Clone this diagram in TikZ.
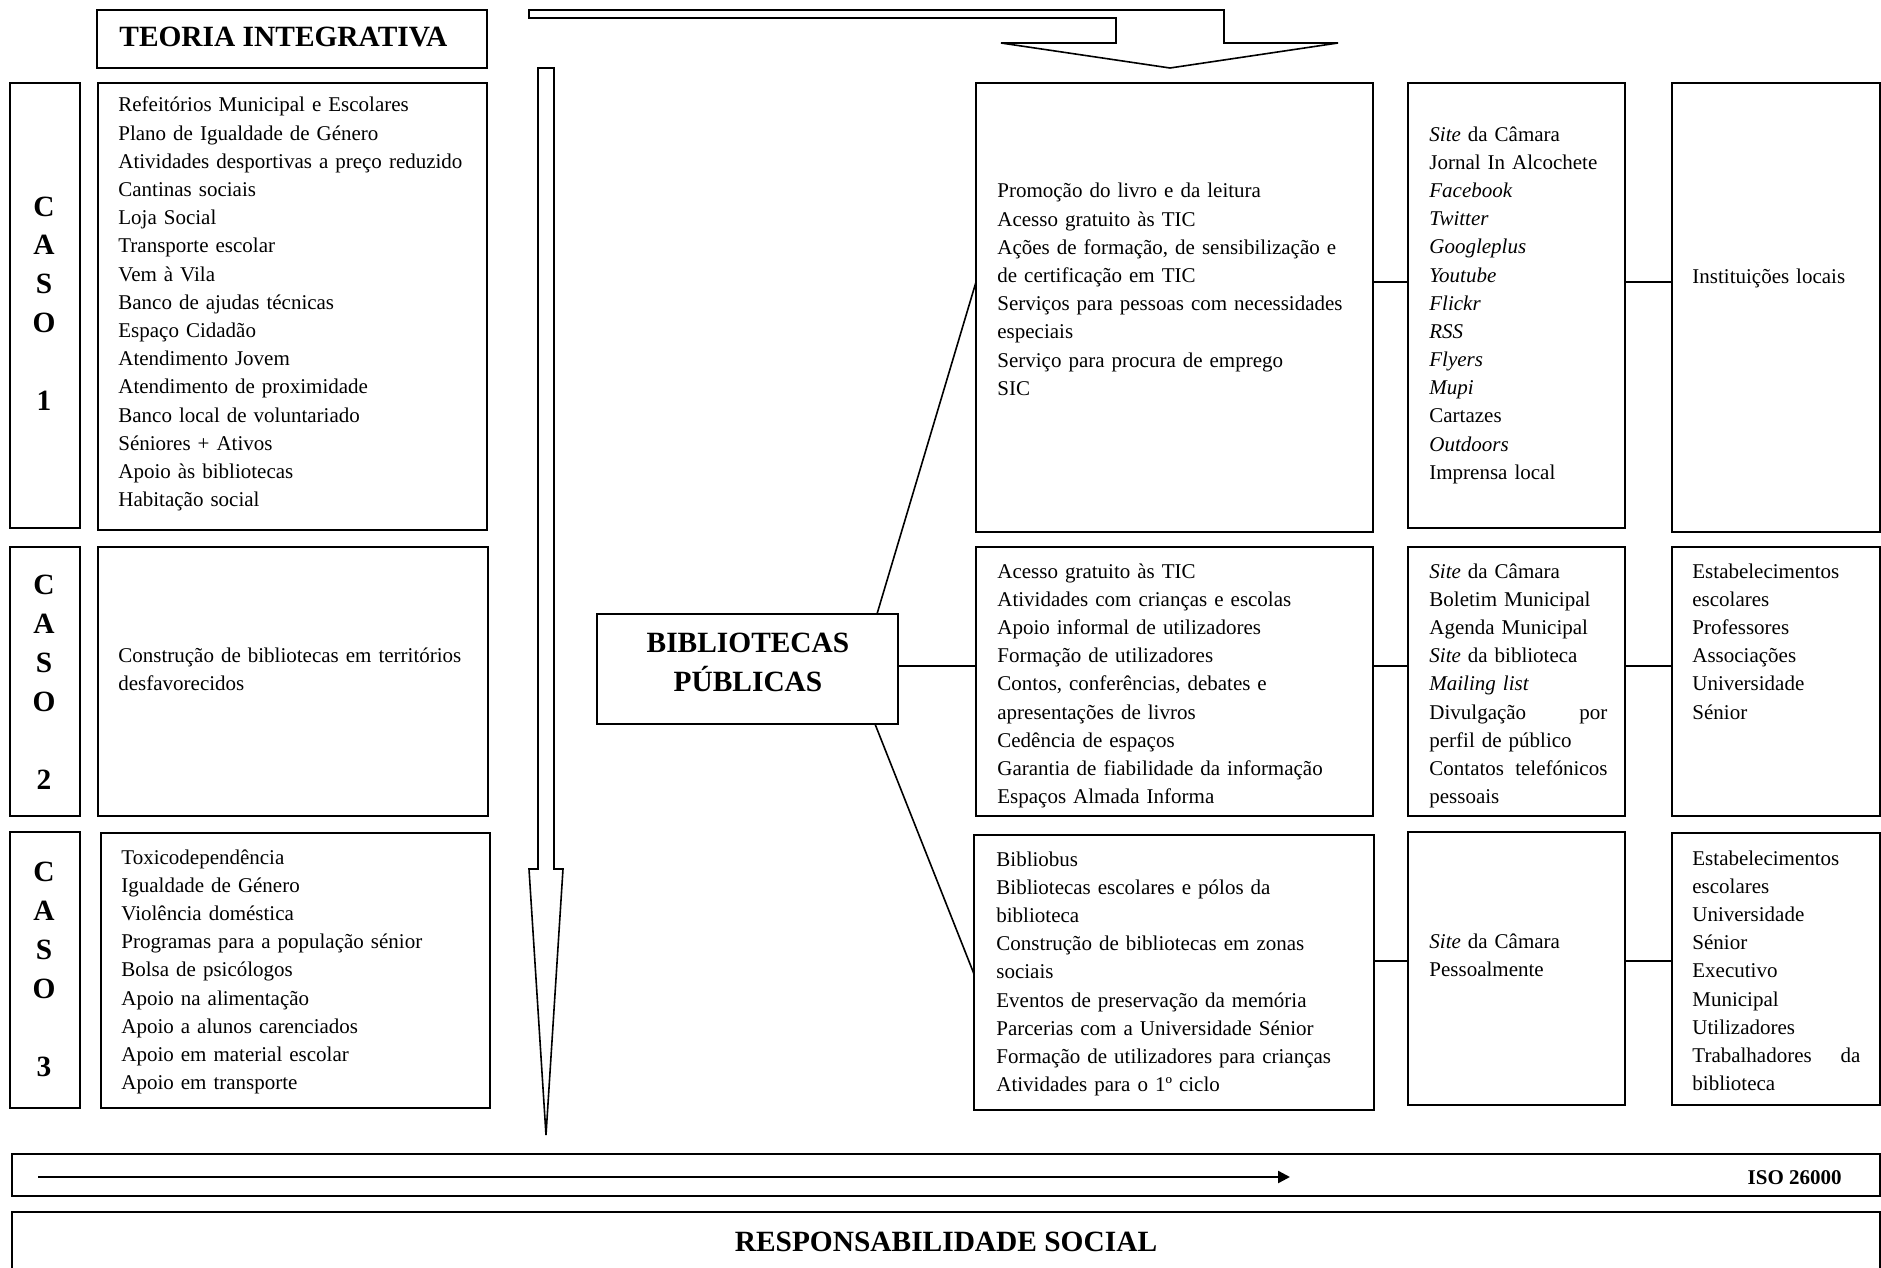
\documentclass[tikz,border=0pt]{standalone}
\usepackage{fontspec}
\setmainfont{Liberation Serif}
\usetikzlibrary{arrows.meta, fit, calc}
\newcommand\corpo{\fontsize{10.5}{14.1}\selectfont}
\newcommand\titulo{\fontsize{14.7}{19.5}\selectfont\bfseries}
\tikzset{
    caixa/.style={draw, line width=1pt, inner sep=0pt, outer sep=0pt},
    lista/.style={anchor=base west, inner sep=0pt, align=left, font=\corpo, text width=#1},
    lista/.default={190pt},
    linha/.style={line width=0.8pt},
    seta/.style={draw, line width=0.8pt, fill=white},
    caso/.style={anchor=base, inner sep=0pt, align=center, font=\titulo, text width=30pt}
}
\begin{document}
\begin{tikzpicture}[x=0.5pt, y=-0.5pt]
    \useasboundingbox (0,0) rectangle (1881,1268);
    % setas grandes
    \draw[seta] (529,10) -- (1224,10) -- (1224,43) -- (1338,43) -- (1170,68) -- (1001,43)
        -- (1116,43) -- (1116,18) -- (529,18) -- cycle;
    \draw[seta] (538,68) -- (554,68) -- (554,869) -- (563,869) -- (546,1135) -- (529,869)
        -- (538,869) -- cycle;
    % coluna da esquerda
    \node[caixa, fit={(97,10) (487,68)}] (teoria) {};
    \node[anchor=base west, inner sep=0pt, font=\titulo] (tteoria) at (119,47) {TEORIA INTEGRATIVA};
    \node[caixa, fit={(10,83) (80,528)}] (rot1) {};
    \node[caixa, fit={(98,83) (487,530)}] (cx1) {};
    \node[caixa, fit={(10,547) (80,816)}] (rot2) {};
    \node[caixa, fit={(98,547) (488,816)}] (cx2) {};
    \node[caixa, fit={(10,832) (80,1108)}] (rot3) {};
    \node[caixa, fit={(101,833) (490,1108)}] (cx3) {};
    \foreach \n/\y in {1/216, 2/594, 3/881}
        \node[caso] (caso\n) at (44,\y) {C\\A\\S\\O\\[19.5pt]\n};
    \node[lista] (tx1) at (118,112) {Refeitórios Municipal e Escolares\\Plano de Igualdade de Género\\Atividades desportivas a preço reduzido\\Cantinas sociais\\Loja Social\\Transporte escolar\\Vem à Vila\\Banco de ajudas técnicas\\Espaço Cidadão\\Atendimento Jovem\\Atendimento de proximidade\\Banco local de voluntariado\\Séniores + Ativos\\Apoio às bibliotecas\\Habitação social};
    \node[lista] (tx2) at (118,662) {Construção de bibliotecas em territórios\\desfavorecidos};
    \node[lista] (tx3) at (121,864) {Toxicodependência\\Igualdade de Género\\Violência doméstica\\Programas para a população sénior\\Bolsa de psicólogos\\Apoio na alimentação\\Apoio a alunos carenciados\\Apoio em material escolar\\Apoio em transporte};
    % bibliotecas
    \node[caixa, fit={(597,614) (898,724)}] (bib) {};
    \node[caso, text width=150pt] (tbib) at (748,652) {BIBLIOTECAS\\PÚBLICAS};
    % coluna da direita
    \node[caixa, fit={(976,83) (1373,532)}] (a1) {};
    \node[caixa, fit={(1408,83) (1625,528)}] (b1) {};
    \node[caixa, fit={(1672,83) (1880,532)}] (c1) {};
    \node[caixa, fit={(976,547) (1373,816)}] (a2) {};
    \node[caixa, fit={(1408,547) (1625,816)}] (b2) {};
    \node[caixa, fit={(1672,547) (1880,816)}] (c2) {};
    \node[caixa, fit={(974,835) (1374,1110)}] (a3) {};
    \node[caixa, fit={(1408,832) (1625,1105)}] (b3) {};
    \node[caixa, fit={(1672,833) (1880,1105)}] (c3) {};
    \node[lista] (ta1) at (997,198) {Promoção do livro e da leitura\\Acesso gratuito às TIC\\Ações de formação, de sensibilização e\\de certificação em TIC\\Serviços para pessoas com necessidades\\especiais\\Serviço para procura de emprego\\SIC};
    \node[lista=100pt] (tb1) at (1429,141) {\textit{Site} da Câmara\\Jornal In Alcochete\\\textit{Facebook}\\\textit{Twitter}\\\textit{Googleplus}\\\textit{Youtube}\\\textit{Flickr}\\\textit{RSS}\\\textit{Flyers}\\\textit{Mupi}\\Cartazes\\\textit{Outdoors}\\Imprensa local};
    \node[lista=90pt] (tc1) at (1692,283) {Instituições locais};
    \node[lista] (ta2) at (997,578) {Acesso gratuito às TIC\\Atividades com crianças e escolas\\Apoio informal de utilizadores\\Formação de utilizadores\\Contos, conferências, debates e\\apresentações de livros\\Cedência de espaços\\Garantia de fiabilidade da informação\\Espaços Almada Informa};
    \node[lista=89pt] (tb2) at (1429,578) {\textit{Site} da Câmara\\Boletim Municipal\\Agenda Municipal\\\textit{Site} da biblioteca\\\textit{Mailing list}\\Divulgação\hfill por\\perfil de público\\Contatos\hfill telefónicos\\pessoais};
    \node[lista=84pt] (tc2) at (1692,578) {Estabelecimentos\\escolares\\Professores\\Associações\\Universidade\\Sénior};
    \node[lista] (ta3) at (996,866) {Bibliobus\\Bibliotecas escolares e pólos da\\biblioteca\\Construção de bibliotecas em zonas\\sociais\\Eventos de preservação da memória\\Parcerias com a Universidade Sénior\\Formação de utilizadores para crianças\\Atividades para o 1º ciclo};
    \node[lista=100pt] (tb3) at (1429,948) {\textit{Site} da Câmara\\Pessoalmente};
    \node[lista=84pt] (tc3) at (1692,865) {Estabelecimentos\\escolares\\Universidade\\Sénior\\Executivo\\Municipal\\Utilizadores\\Trabalhadores\hfill da\\biblioteca};
    % ligacoes
    \coordinate (m1) at (0,282);
    \coordinate (m2) at (0,666);
    \coordinate (m3) at (0,961);
    \coordinate (d3) at (0,974);
    \draw[linha] ([xshift=-10.5pt]bib.north east) -- (a1.west |- m1);
    \draw[linha] (bib.east |- m2) -- (a2.west |- m2);
    \draw[linha] ([xshift=-11.5pt]bib.south east) -- (a3.west |- d3);
    \foreach \r in {1,2,3}{
        \draw[linha] (a\r.east |- m\r) -- (b\r.west |- m\r);
        \draw[linha] (b\r.east |- m\r) -- (c\r.west |- m\r);
    }
    % rodape
    \node[caixa, fit={(12,1154) (1880,1196)}] (iso) {};
    \node[caixa, fit={(12,1212) (1880,1290)}] (rs) {};
    \coordinate (isoA) at (38,1177);
    \coordinate (isoB) at (1290,1177);
    \draw[line width=1.2pt, -{Triangle[length=6pt, width=6pt]}] (isoA) -- (isoB);
    \node[anchor=base east, inner sep=0pt, font=\corpo\bfseries] (tiso) at (1842,1184) {ISO 26000};
    \node[anchor=base, inner sep=0pt, font=\titulo] (trs) at (946,1251) {RESPONSABILIDADE SOCIAL};
\end{tikzpicture}
\end{document}
